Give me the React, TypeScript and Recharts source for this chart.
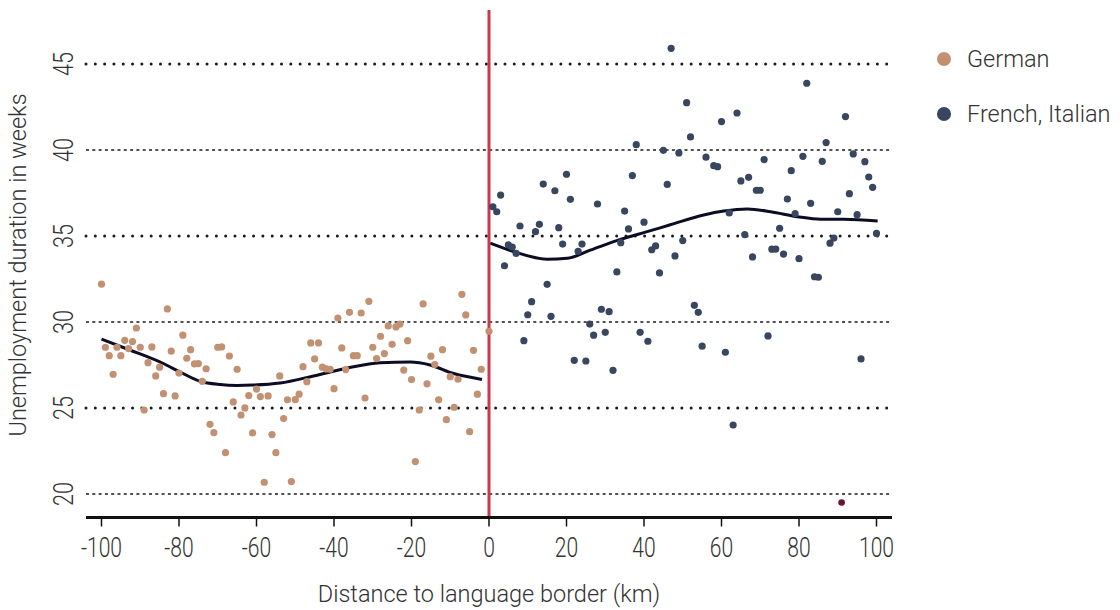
import { ComposedChart, Scatter, Line, XAxis, YAxis, ReferenceLine, Legend } from 'recharts'

// distance to border (km), unemployment duration (weeks)
const german: [number, number][] = [
  [-100, 32.2], [-99, 28.53], [-98, 28.04], [-97, 26.96], [-96, 28.53], [-95, 28.04], [-94, 28.93], [-93, 28.45],
  [-92, 28.86], [-91, 29.65], [-90, 28.53], [-89, 24.88], [-88, 27.63], [-87, 28.55], [-86, 26.86], [-85, 27.37],
  [-84, 25.83], [-83, 30.76], [-82, 28.3], [-81, 25.7], [-80, 27.03], [-79, 29.23], [-78, 27.89], [-77, 28.39],
  [-76, 27.56], [-75, 27.58], [-74, 26.55], [-73, 27.28], [-72, 24.05], [-71, 23.56], [-70, 28.53], [-69, 28.55],
  [-68, 22.4], [-67, 28.02], [-66, 25.35], [-65, 27.25], [-64, 24.59], [-63, 25.0], [-62, 25.72], [-61, 23.55],
  [-60, 26.1], [-59, 25.66], [-58, 20.68], [-57, 25.7], [-56, 23.45], [-55, 22.4], [-54, 26.86], [-53, 24.38],
  [-52, 25.47], [-51, 20.72], [-50, 25.48], [-49, 25.8], [-48, 27.4], [-47, 26.53], [-46, 28.78], [-45, 27.85],
  [-44, 28.78], [-43, 27.37], [-42, 27.27], [-41, 27.25], [-40, 26.12], [-39, 30.23], [-38, 28.49], [-37, 27.23],
  [-36, 30.56], [-35, 28.04], [-34, 28.04], [-33, 30.52], [-32, 25.58], [-31, 31.2], [-30, 28.53], [-29, 27.87],
  [-28, 29.17], [-27, 28.16], [-26, 29.77], [-25, 28.7], [-24, 29.71], [-23, 29.87], [-22, 27.2], [-21, 28.91],
  [-20, 26.65], [-19, 21.88], [-18, 24.88], [-17, 31.05], [-16, 26.4], [-15, 28.01], [-14, 27.52], [-13, 25.47],
  [-12, 28.39], [-11, 24.32], [-10, 26.82], [-9, 25.04], [-8, 26.67], [-7, 31.61], [-6, 30.41], [-5, 23.62],
  [-4, 28.35], [-3, 25.8], [-2, 27.25], [0, 29.46],
]

const french: [number, number][] = [
  [1, 36.7], [2, 36.41], [3, 37.38], [4, 33.27], [5, 34.48], [6, 34.36], [7, 33.99], [8, 35.58], [9, 28.91],
  [10, 30.42], [11, 31.18], [12, 35.25], [13, 35.68], [14, 38.02], [15, 32.19], [16, 30.33], [17, 37.63],
  [18, 35.48], [19, 34.53], [20, 38.59], [21, 37.13], [22, 27.77], [23, 34.11], [24, 34.53], [25, 27.73],
  [26, 29.88], [27, 29.23], [28, 36.86], [29, 30.74], [30, 29.4], [31, 30.6], [32, 27.19], [33, 32.91],
  [34, 34.61], [35, 36.45], [36, 35.41], [37, 38.51], [38, 40.31], [39, 29.4], [40, 35.8], [41, 28.88],
  [42, 34.2], [43, 34.42], [44, 32.85], [45, 39.98], [46, 38.0], [47, 45.91], [48, 33.84], [49, 39.83],
  [50, 34.73], [51, 42.75], [52, 40.76], [53, 30.97], [54, 30.56], [55, 28.59], [56, 39.58], [58, 39.09],
  [59, 39.03], [60, 41.65], [61, 28.24], [62, 36.34], [63, 24.01], [64, 42.15], [65, 38.2], [66, 35.08],
  [67, 38.41], [68, 33.78], [69, 37.66], [70, 37.66], [71, 39.44], [72, 29.19], [73, 34.23], [74, 34.24],
  [75, 35.45], [76, 33.95], [77, 37.15], [78, 38.8], [79, 36.3], [80, 33.68], [81, 39.63], [82, 43.88],
  [83, 36.9], [84, 32.63], [85, 32.6], [86, 39.34], [87, 40.43], [88, 34.58], [89, 34.88], [90, 36.41],
  [92, 41.94], [93, 37.46], [94, 39.77], [95, 36.24], [96, 27.85], [97, 39.32], [98, 38.43], [99, 37.83],
  [100, 35.15],
]

const outlier: [number, number][] = [[91, 19.5]]

// smoothed fits
const germanFit: [number, number][] = [
  [-100, 29.0], [-92.7, 28.37], [-84.2, 27.6], [-79.8, 27.1], [-74.6, 26.55], [-69.4, 26.36], [-65.1, 26.31],
  [-60.9, 26.33], [-53.9, 26.45], [-45.3, 26.86], [-36.7, 27.31], [-28.1, 27.63], [-20.3, 27.67], [-15.2, 27.5],
  [-9.1, 27.0], [-1.8, 26.66],
]

const frenchFit: [number, number][] = [
  [0.3, 34.58], [6.4, 34.09], [15, 33.65], [20.2, 33.7], [26.3, 34.19], [33.9, 34.8], [40.8, 35.25],
  [46.8, 35.65], [55.4, 36.22], [60.6, 36.45], [66.7, 36.57], [72.7, 36.41], [79.6, 36.12], [85.6, 35.97],
  [91.6, 35.97], [100.3, 35.87],
]

const xTicks = [-100, -80, -60, -40, -20, 0, 20, 40, 60, 80, 100]
const yTicks = [20, 25, 30, 35, 40, 45]
const boldGrid = [25, 35, 45]
const thinGrid = [20, 30, 40]

const toPts = (rows: [number, number][]) => rows.map(([x, y]) => ({ x, y }))

const TAN = '#c19172'
const NAVY = '#38475f'
const INK = '#333333'
const FONT = 'Roboto, sans-serif'

const dot = (fill: string, r = 3.6) => (props: any) => <circle cx={props.cx} cy={props.cy} r={r} fill={fill} />

// light, narrowed tick text
function XTick({ x, y, payload }: any) {
  return (
    <g transform={`translate(${x} ${y + 20}) scale(0.78 1)`}>
      <text textAnchor="middle" dominantBaseline="central" fontFamily={FONT} fontWeight={300} fontSize={27} fill={INK}>
        {payload.value}
      </text>
    </g>
  )
}

function YTick({ y, payload }: any) {
  return (
    <g transform={`translate(64 ${y}) rotate(-90) scale(0.8 1)`}>
      <text textAnchor="middle" dominantBaseline="central" fontFamily={FONT} fontWeight={300} fontSize={27} fill={INK}>
        {payload.value}
      </text>
    </g>
  )
}

function LegendBox() {
  const items = [
    { name: 'German', color: TAN },
    { name: 'French, Italian', color: NAVY },
  ]
  return (
    <div style={{ fontFamily: FONT, fontWeight: 300, fontSize: 23.5, color: INK }}>
      {items.map((it) => (
        <div key={it.name} style={{ display: 'flex', alignItems: 'center', height: 55 }}>
          <svg width={16} height={16} style={{ marginRight: 15 }}>
            <circle cx={8} cy={8} r={7} fill={it.color} />
          </svg>
          <span>{it.name}</span>
        </div>
      ))}
    </div>
  )
}

export default function App() {
  return (
    <div style={{ position: 'absolute', left: 0, top: 0, width: 1120, height: 610, background: '#fff' }}>
      <ComposedChart width={1120} height={610} margin={{ top: 10, right: 228, bottom: 0, left: 0 }}>
        <XAxis type="number" dataKey="x" domain={[-104, 104]} ticks={xTicks} allowDataOverflow
          height={92.5} axisLine={{ stroke: '#111', strokeWidth: 3 }} tickLine={{ stroke: '#111', strokeWidth: 1.5 }}
          tickSize={9} tick={<XTick />} />
        <YAxis type="number" dataKey="y" domain={[18.63, 48.14]} ticks={yTicks} allowDataOverflow
          width={86} axisLine={false} tickLine={false} tick={<YTick />} />
        {boldGrid.map((v) => (
          <ReferenceLine key={'b' + v} y={v} stroke="#1a1a1a" strokeWidth={3} strokeDasharray="0.01 9.3" strokeLinecap="round" />
        ))}
        {thinGrid.map((v) => (
          <ReferenceLine key={'t' + v} y={v} stroke="#1a1a1a" strokeWidth={1.5} strokeDasharray="3 3.3" />
        ))}
        <Scatter name="German" data={toPts(german)} dataKey="y" fill={TAN} shape={dot(TAN)} isAnimationActive={false} />
        <Scatter name="French, Italian" data={toPts(french)} dataKey="y" fill={NAVY} shape={dot(NAVY)} isAnimationActive={false} />
        <Scatter name="outlier" data={toPts(outlier)} dataKey="y" fill="#6b1238" shape={dot('#6b1238', 3.3)} isAnimationActive={false} legendType="none" />
        <Line data={toPts(germanFit)} dataKey="y" type="monotone" stroke="#0c0c24" strokeWidth={3} dot={false} isAnimationActive={false} legendType="none" />
        <Line data={toPts(frenchFit)} dataKey="y" type="monotone" stroke="#0c0c24" strokeWidth={3} dot={false} isAnimationActive={false} legendType="none" />
        <ReferenceLine x={0} stroke="#d2344f" strokeWidth={3} />
        <Legend layout="horizontal" verticalAlign="middle" align="center" content={<LegendBox />}
          wrapperStyle={{ left: 936, top: 31, width: 184 }} />
      </ComposedChart>
      <div style={{ position: 'absolute', left: 489, top: 594, transform: 'translate(-50%,-50%)', whiteSpace: 'nowrap',
        fontFamily: FONT, fontWeight: 300, fontSize: 23.5, color: INK }}>
        Distance to language border (km)
      </div>
      <div style={{ position: 'absolute', left: 18, top: 265, transform: 'translate(-50%,-50%) rotate(-90deg)', whiteSpace: 'nowrap',
        fontFamily: FONT, fontWeight: 300, fontSize: 23.5, color: INK }}>
        Unemployment duration in weeks
      </div>
    </div>
  )
}
